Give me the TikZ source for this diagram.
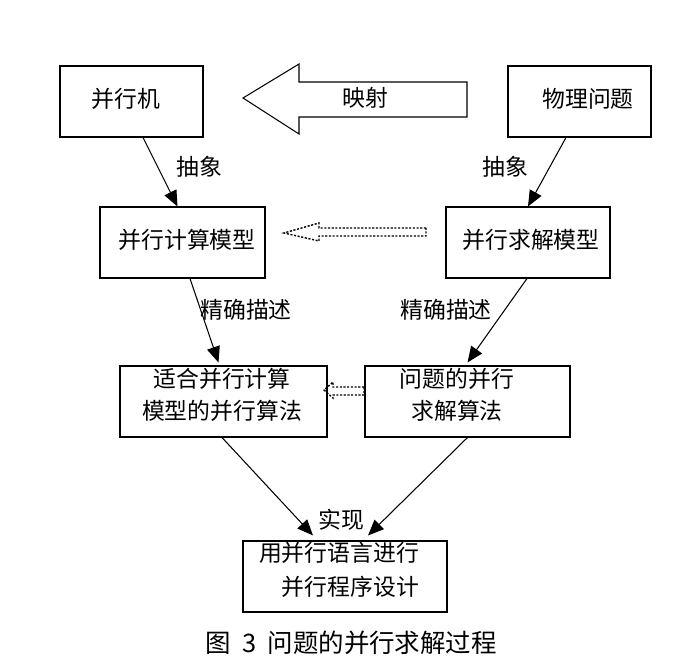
\documentclass[tikz,border=0pt]{standalone}
\usepackage{fontspec}
\setmainfont{Noto Sans CJK SC}
\usetikzlibrary{arrows.meta,calc}

\begin{document}
\begin{tikzpicture}[x=0.02cm,y=-0.02cm]
\tikzset{every node/.style={inner sep=0pt, font=\fontsize{13}{19}\selectfont},
  box/.style={draw, line width=0.6pt, minimum height=1.42cm},
  conn/.style={line width=0.6pt, -{Triangle[length=9pt,width=7.5pt]}},
  dotline/.style={line width=0.8pt, dash pattern=on 1.2pt off 0.9pt}}
\useasboundingbox (0,0) rectangle (689,672);
% boxes
\node[box, minimum width=2.86cm] (jiqi) at (131.5,101.5) {};
\node (jiqi-t) at (126,99) {并行机};
\node[box, minimum width=2.86cm] (wuli) at (579.5,101.5) {};
\node (wuli-t) at (588,99) {物理问题};
\node[box, minimum width=3.3cm] (jsmx) at (182.5,242.5) {};
\node (jsmx-t) at (187,240) {并行计算模型};
\node[box, minimum width=3.28cm] (qjmx) at (528,242.5) {};
\node (qjmx-t) at (531,240) {并行求解模型};
\node[box, minimum width=4.14cm] (shihe) at (223.5,401.5) {};
\node (shihe-t) at (222,397) {\begin{tabular}{@{}c@{}}适合并行计算\\[-0.5pt]模型的并行算法\end{tabular}};
\node[box, minimum width=4.1cm] (wenti) at (467.5,401.5) {};
\node (wenti-t) at (457,397) {\begin{tabular}{@{}c@{}}问题的并行\\[-0.5pt]求解算法\end{tabular}};
\node[box, minimum width=4.08cm] (yong) at (345,576.5) {};
\node (yong-t) at (339,572) {\begin{tabular}{@{}r@{}}用并行语言进行\\[0pt]并行程序设计\end{tabular}};

% big arrow: mapping
\draw[line width=0.6pt] (467,82) -- (299,82) -- (299,64) -- (243,98)
  -- (299,134) -- (299,117) -- (467,117) -- cycle;
\node (yingshe) at (365,98) {映射};

% dotted arrows
\draw[dotline] (426,228) -- (319,228) -- (319,223) -- (284,233)
  -- (319,241) -- (319,236) -- (426,236) -- cycle;
\draw[dotline] (364,387) -- (333,387) -- (333,382) -- (324,390)
  -- (333,398) -- (333,395) -- (364,395) -- cycle;

% connectors
\draw[conn] ($(jiqi.south)+(11.5,0)$) -- ($(jsmx.north)+(-5,0)$);
\node (chou1) at (199,167) {抽象};
\draw[conn] ($(wuli.south)+(-13.5,0)$) -- ($(qjmx.north)+(0,0)$);
\node (chou2) at (505,167) {抽象};
\draw[conn] ($(jsmx.south)+(7.5,0)$) -- ($(shihe.north)+(-5,-3)$);
\node (jq1) at (246,310) {精确描述};
\draw[conn] ($(qjmx.south)+(-1,0)$) -- ($(wenti.north)+(0,-3)$);
\node (jq2) at (446,310) {精确描述};
\draw[conn] ($(shihe.south)+(-1.5,0)$) -- ($(yong.north)+(-32,-5)$);
\draw[conn] ($(wenti.south)+(0,0)$) -- ($(yong.north)+(23,-5)$);
\node (shixian) at (341,520) {实现};

% caption
\node[font=\fontsize{14.5}{18}\selectfont] (cap) at (351,643) {图\hspace{0.45em}3\hspace{0.45em}问题的并行求解过程};
\end{tikzpicture}
\end{document}
